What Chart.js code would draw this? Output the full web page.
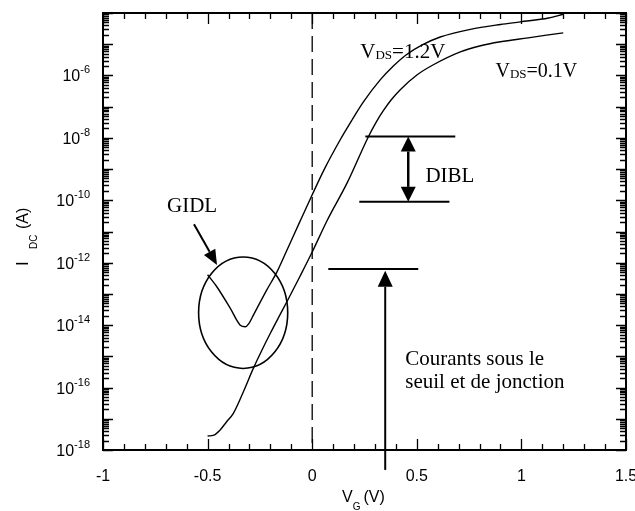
<!DOCTYPE html>
<html>
<head>
<meta charset="utf-8">
<script src="https://cdn.jsdelivr.net/npm/chart.js@4.4.1/dist/chart.umd.min.js"></script>
<style>
html, body { margin: 0; padding: 0; background: #fff; }
canvas { display: block; }
</style>
</head>
<body>
<canvas id="iv-chart" width="635" height="511"></canvas>
<script>
// Courbe VDS = 1.2 V (avec GIDL) : VG (V) et IDC (A)
const vgHigh = [-0.50, -0.456, -0.392, -0.344, -0.32, -0.30, -0.281, -0.217, -0.169, -0.121, -0.06, 0.0,
                0.06, 0.134, 0.191, 0.244, 0.325, 0.388, 0.45, 0.526, 0.612, 0.756, 0.90, 0.995, 1.13, 1.20];
const idHigh = [4.1e-13, 1.7e-13, 3.5e-14, 1.0e-14, 8.9e-15, 1.2e-14, 2.1e-14, 1.35e-13, 5.0e-13, 2.5e-12, 2.0e-11, 1.5e-10,
                1.05e-9, 8.7e-9, 3.8e-8, 1.4e-7, 7.2e-7, 2.0e-6, 4.6e-6, 9.5e-6, 1.7e-5, 3.0e-5, 4.3e-5, 5.2e-5, 6.9e-5, 9.1e-5];

// Courbe VDS = 0.1 V
const vgLow = [-0.50, -0.47, -0.44, -0.41, -0.377, -0.33, -0.281, -0.24, -0.20, -0.16, -0.121, -0.06, 0.0,
               0.072, 0.167, 0.268, 0.306, 0.340, 0.378, 0.421, 0.502, 0.579, 0.708, 0.80, 0.90, 1.033, 1.12, 1.20];
const idLow = [2.8e-18, 3.0e-18, 4.4e-18, 7.9e-18, 1.5e-17, 7.1e-17, 4.2e-16, 1.6e-15, 5.5e-15, 1.8e-14, 5.6e-14, 3.5e-13, 2.2e-12,
               2.3e-11, 3.6e-10, 1.07e-8, 3.2e-8, 7.4e-8, 1.66e-7, 3.5e-7, 1.05e-6, 2.2e-6, 5.7e-6, 8.8e-6, 1.2e-5, 1.6e-5, 1.95e-5, 2.3e-5];

// axes
const xTicks = [-1, -0.5, 0, 0.5, 1, 1.5];
const xTickLabels = ['-1', '-0.5', '0', '0.5', '1', '1.5'];
const yTickExponents = [-18, -16, -14, -12, -10, -8, -6];

// annotations (unités des données)
const diblTopX = [0.254, 0.684], diblTopY = 1.1e-8;
const diblBotX = [0.225, 0.656], diblBotY = 8.9e-11;
const seuilX = [0.077, 0.507], seuilY = 6.3e-13;

const serif = '"Liberation Serif", "Times New Roman", serif';
const sans = '"Liberation Sans", Arial, sans-serif';

function pts(xs, ys) {
    return xs.map((v, i) => ({ x: v, y: ys[i] }));
}

function arrowHead(ctx, x1, y1, x2, y2, len, w) {
    const a = Math.atan2(y2 - y1, x2 - x1);
    const bx = x2 - len * Math.cos(a), by = y2 - len * Math.sin(a);
    ctx.beginPath();
    ctx.moveTo(x2, y2);
    ctx.lineTo(bx + w / 2 * Math.sin(a), by - w / 2 * Math.cos(a));
    ctx.lineTo(bx - w / 2 * Math.sin(a), by + w / 2 * Math.cos(a));
    ctx.closePath();
    ctx.fill();
    return [bx, by];
}

// texte avec indices / exposants
function richText(ctx, x, y, parts) {
    let cx = x;
    parts.forEach(p => {
        ctx.font = p.size + 'px ' + p.family;
        ctx.fillText(p.text, cx + (p.dx || 0), y + (p.dy || 0));
        cx += ctx.measureText(p.text).width + (p.dx || 0);
    });
}

const decorations = {
    id: 'decorations',
    afterDraw(chart) {
        const { ctx, chartArea: a, scales: { x, y } } = chart;
        ctx.save();
        ctx.strokeStyle = '#000';
        ctx.fillStyle = '#000';

        // graduations vers l'intérieur
        ctx.lineWidth = 1.3;
        ctx.beginPath();
        for (let i = -10; i <= 15; i++) {
            const px = Math.round(x.getPixelForValue(i / 10)) + 0.5;
            const len = i % 5 === 0 ? 11 : 6;
            ctx.moveTo(px, a.bottom); ctx.lineTo(px, a.bottom - len);
            ctx.moveTo(px, a.top); ctx.lineTo(px, a.top + len);
        }
        for (let e = -18; e <= -4; e++) {
            for (let m = 1; m <= 9; m++) {
                if (e === -4 && m > 1) break;
                const py = Math.round(y.getPixelForValue(m * Math.pow(10, e))) + 0.5;
                const len = m === 1 ? 10 : 6;
                ctx.moveTo(a.left, py); ctx.lineTo(a.left + len, py);
                ctx.moveTo(a.right, py); ctx.lineTo(a.right - len, py);
            }
        }
        ctx.stroke();

        ctx.lineWidth = 2;
        ctx.strokeRect(a.left, a.top, a.right - a.left, a.bottom - a.top);

        // étiquettes des axes
        ctx.textBaseline = 'alphabetic';
        ctx.font = '16px ' + sans;
        ctx.textAlign = 'center';
        xTicks.forEach((v, i) => ctx.fillText(xTickLabels[i], x.getPixelForValue(v), a.bottom + 31));
        ctx.textAlign = 'left';
        yTickExponents.forEach(e => {
            const py = y.getPixelForValue(Math.pow(10, e));
            ctx.font = '11px ' + sans;
            const sup = String(e);
            const sw = ctx.measureText(sup).width;
            ctx.font = '16px ' + sans;
            const bw = ctx.measureText('10').width;
            const right = a.left - 13;
            ctx.fillText('10', right - sw - bw, py + 6);
            ctx.font = '11px ' + sans;
            ctx.fillText(sup, right - sw, py - 2);
        });

        // titre axe X
        richText(ctx, 342, 502, [
            { text: 'V', size: 16, family: sans },
            { text: 'G', size: 10, family: sans, dy: 8 },
            { text: '(V)', size: 16, family: sans, dx: 3 }
        ]);
        // titre axe Y
        ctx.save();
        ctx.translate(28, 266);
        ctx.rotate(-Math.PI / 2);
        ctx.font = '17px ' + sans;
        ctx.fillText('I', 0, 0);
        ctx.font = '10px ' + sans;
        ctx.fillText('DC', 17, 9);
        ctx.font = '16px ' + sans;
        ctx.fillText('(A)', 37, 0);
        ctx.restore();

        // GIDL
        const gx = x.getPixelForValue(-0.33), gy = y.getPixelForValue(2.5e-14);
        const rx = x.getPixelForValue(-0.117) - gx;
        const ry = y.getPixelForValue(4.1e-16) - gy;
        ctx.lineWidth = 1.6;
        ctx.beginPath();
        ctx.ellipse(gx, gy, rx, ry, 0, 0, Math.PI * 2);
        ctx.stroke();

        ctx.lineWidth = 2;
        let t0 = [x.getPixelForValue(-0.565), y.getPixelForValue(1.7e-11)];
        let t1 = [x.getPixelForValue(-0.455), y.getPixelForValue(8.5e-13)];
        let b = arrowHead(ctx, t0[0], t0[1], t1[0], t1[1], 15, 13);
        ctx.beginPath(); ctx.moveTo(t0[0], t0[1]); ctx.lineTo(b[0], b[1]); ctx.stroke();

        ctx.font = '21px ' + serif;
        ctx.fillText('GIDL', x.getPixelForValue(-0.694), y.getPixelForValue(4.3e-11));

        // DIBL
        const dx = x.getPixelForValue(0.459);
        const dTop = y.getPixelForValue(diblTopY), dBot = y.getPixelForValue(diblBotY);
        ctx.lineWidth = 2.5;
        const h1 = arrowHead(ctx, dx, dBot, dx, dTop, 15, 15);
        const h2 = arrowHead(ctx, dx, dTop, dx, dBot, 15, 15);
        ctx.beginPath(); ctx.moveTo(dx, h1[1]); ctx.lineTo(dx, h2[1]); ctx.stroke();
        ctx.font = '21px ' + serif;
        ctx.fillText('DIBL', x.getPixelForValue(0.541), y.getPixelForValue(3.9e-10));

        // Courants sous le seuil
        const cx = x.getPixelForValue(0.349);
        t0 = [cx, y.getPixelForValue(2.3e-19)];
        t1 = [cx, y.getPixelForValue(5.5e-13)];
        ctx.lineWidth = 2;
        b = arrowHead(ctx, t0[0], t0[1], t1[0], t1[1], 16, 15);
        ctx.beginPath(); ctx.moveTo(t0[0], t0[1]); ctx.lineTo(b[0], b[1]); ctx.stroke();
        ctx.font = '21px ' + serif;
        ctx.fillText('Courants sous le', x.getPixelForValue(0.445), y.getPixelForValue(5.2e-16));
        ctx.fillText('seuil et de jonction', x.getPixelForValue(0.445), y.getPixelForValue(9.8e-17));

        // VDS labels
        richText(ctx, x.getPixelForValue(0.230), y.getPixelForValue(3.6e-6), [
            { text: 'V', size: 21, family: serif },
            { text: 'DS', size: 13, family: serif, dy: 1 },
            { text: '=1.2V', size: 21, family: serif }
        ]);
        richText(ctx, x.getPixelForValue(0.876), y.getPixelForValue(8.9e-7), [
            { text: 'V', size: 20, family: serif },
            { text: 'DS', size: 13, family: serif, dy: 1 },
            { text: '=0.1V', size: 20, family: serif }
        ]);
        ctx.restore();
    }
};

const line = (data, extra) => Object.assign({
    data: data,
    borderColor: '#000',
    borderWidth: 1.4,
    pointRadius: 0,
    tension: 0,
    fill: false
}, extra || {});

new Chart(document.getElementById('iv-chart'), {
    type: 'line',
    data: {
        datasets: [
            line(pts(vgHigh, idHigh), { cubicInterpolationMode: 'monotone' }),
            line(pts(vgLow, idLow), { cubicInterpolationMode: 'monotone' }),
            line([{ x: 0, y: 1e-4 }, { x: 0, y: 1e-18 }], { borderDash: [16, 7], borderWidth: 1.3 }),
            line(pts(diblTopX, [diblTopY, diblTopY]), { borderWidth: 2 }),
            line(pts(diblBotX, [diblBotY, diblBotY]), { borderWidth: 2 }),
            line(pts(seuilX, [seuilY, seuilY]), { borderWidth: 2 })
        ]
    },
    options: {
        responsive: false,
        animation: false,
        devicePixelRatio: 1,
        layout: { padding: { left: 103, top: 13, right: 9, bottom: 61 } },
        plugins: { legend: { display: false }, tooltip: { enabled: false } },
        scales: {
            x: { type: 'linear', min: -1, max: 1.5, display: false },
            y: { type: 'logarithmic', min: 1e-18, max: 1e-4, display: false }
        }
    },
    plugins: [decorations]
});
</script>
</body>
</html>
